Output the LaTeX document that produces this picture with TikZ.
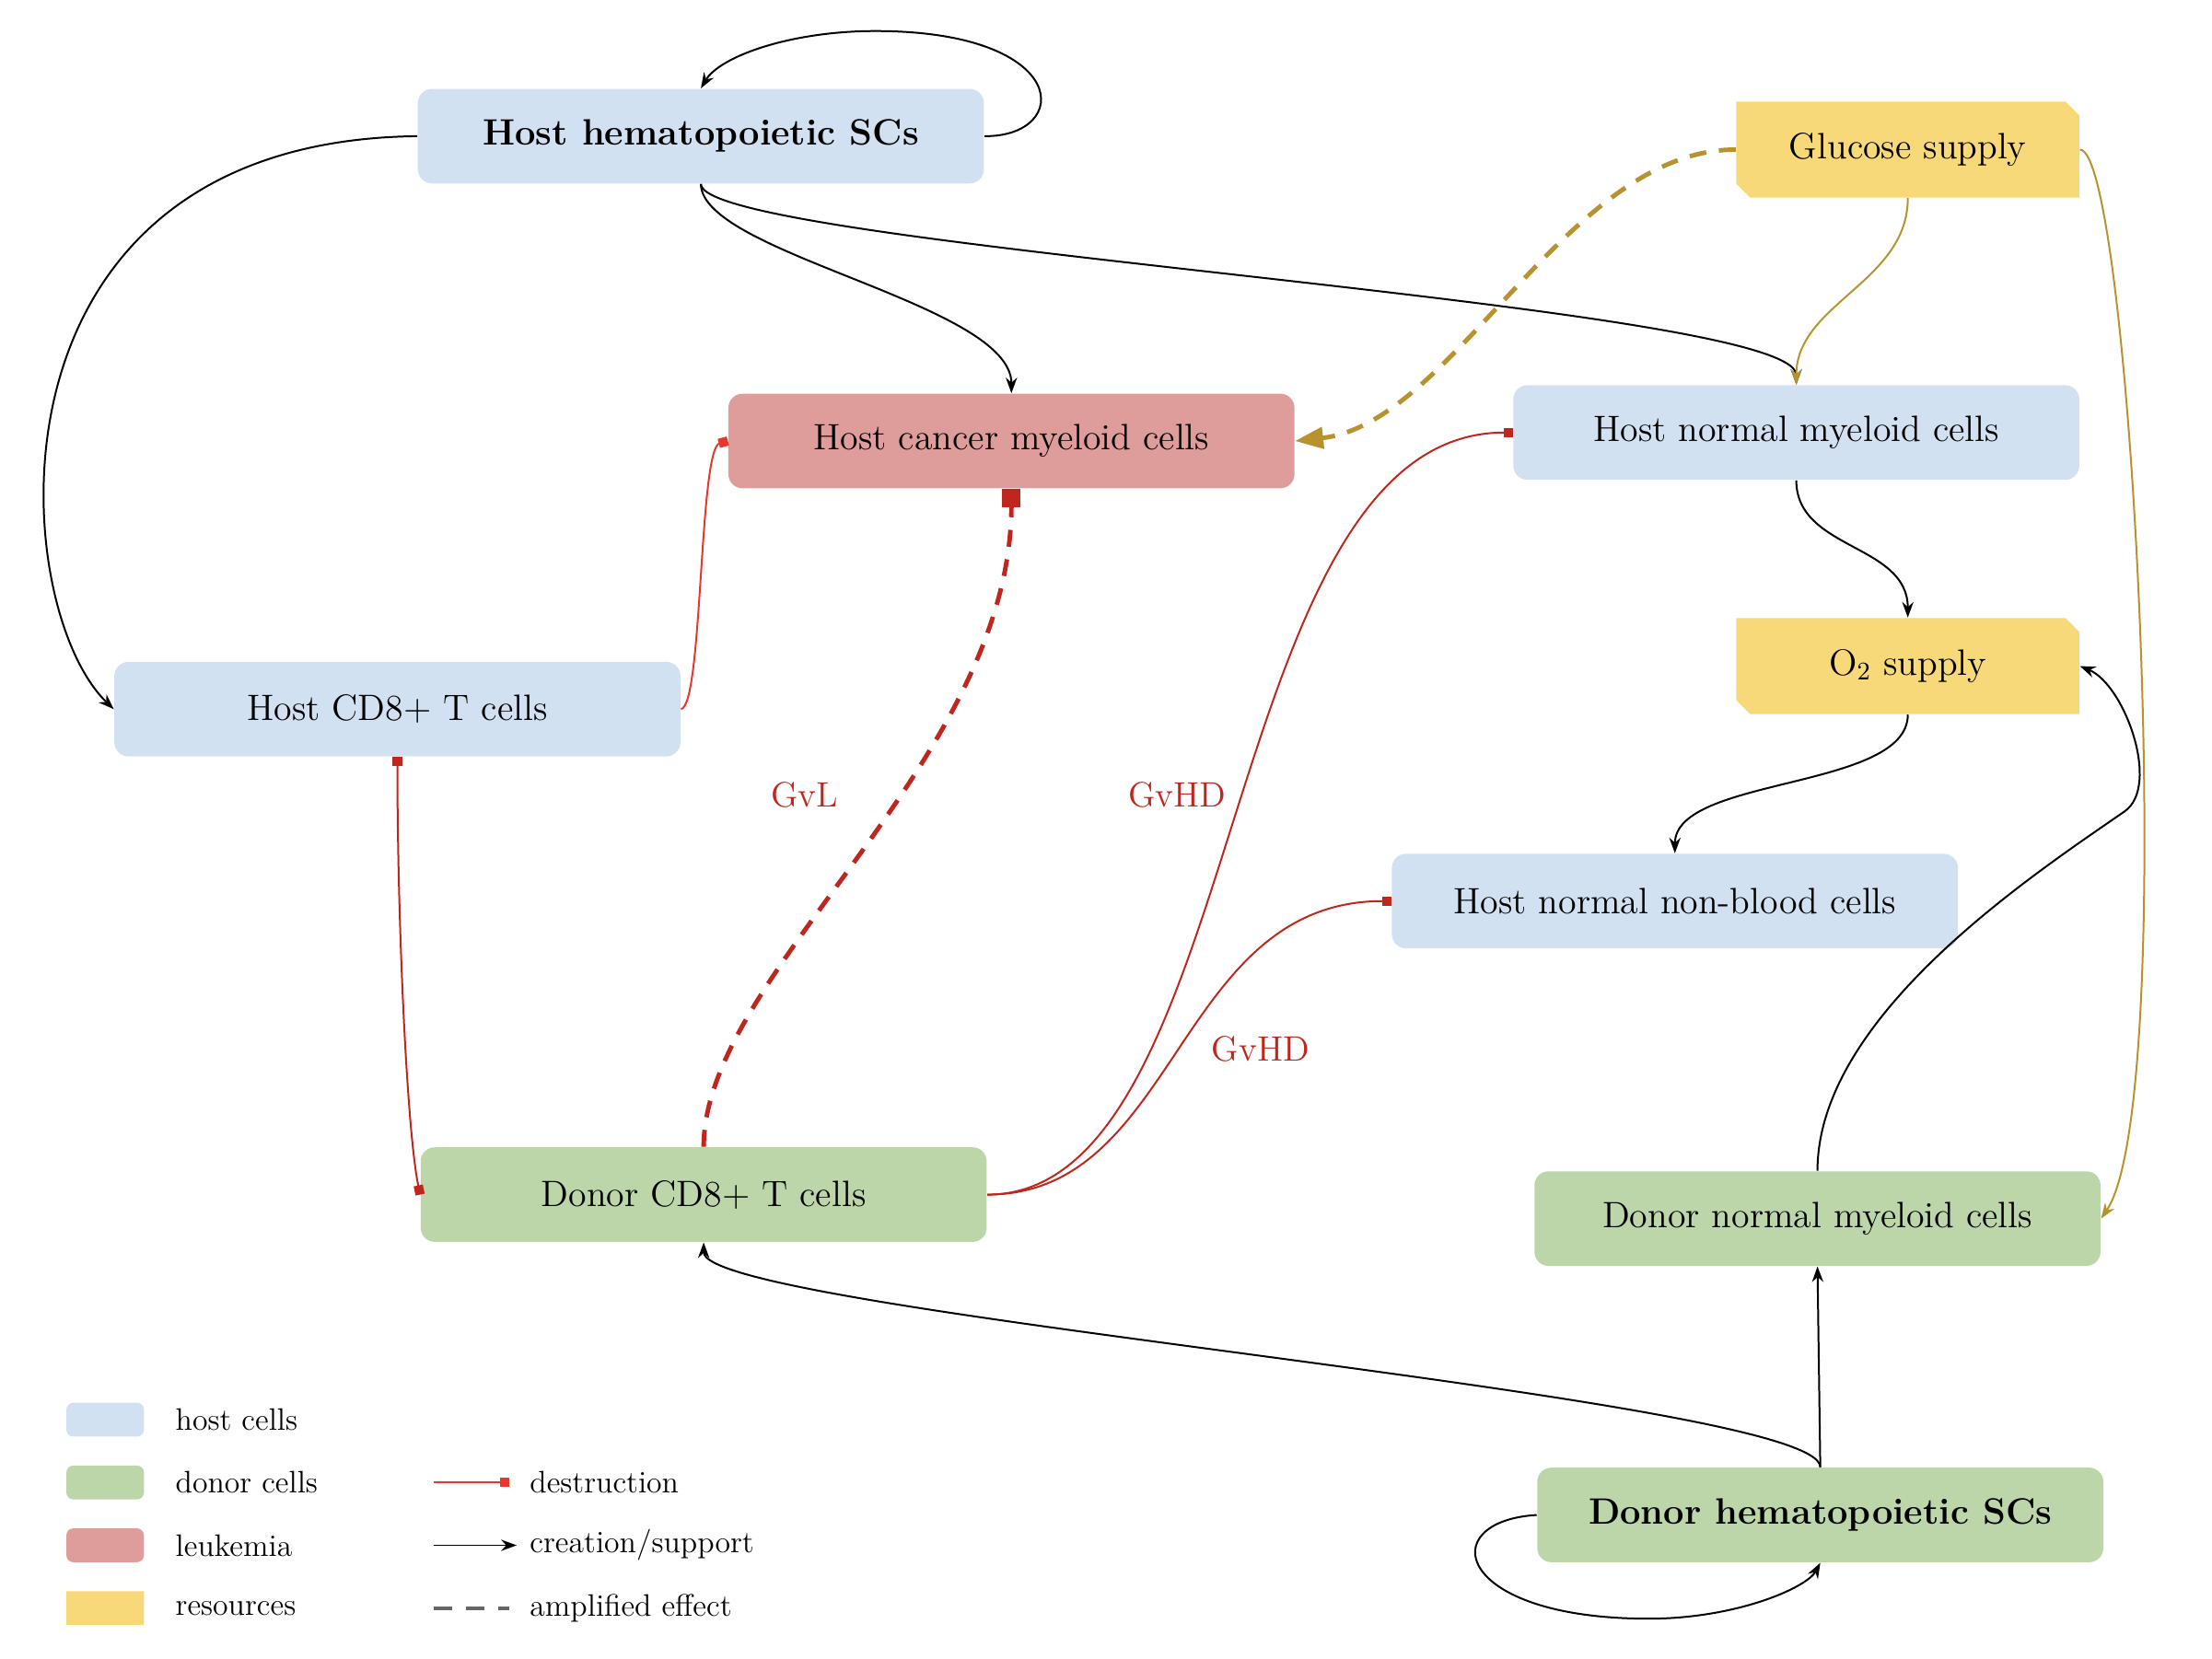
\documentclass[tikz,border=0pt]{standalone}
\usepackage{amsmath}
\usepackage{amssymb}
\usepackage{tikz}
\usetikzlibrary{arrows.meta,shapes.misc}

\definecolor{hostblue}{HTML}{D2E1F1}
\definecolor{donorgreen}{HTML}{BCD6AA}
\definecolor{leukred}{HTML}{DE9C9B}
\definecolor{resyellow}{HTML}{F8D97A}
\definecolor{killred}{HTML}{BF271E}
\definecolor{killbright}{HTML}{E8372B}
\definecolor{goldline}{HTML}{B8922F}
\definecolor{legendgray}{HTML}{666666}

\begin{document}
\begin{tikzpicture}[x=0.5pt,y=0.5pt,yscale=-1,
  cellbox/.style={rounded corners=5pt,minimum width=200.5pt,minimum height=33.5pt,inner sep=0pt,font=\fontsize{13}{15}\selectfont},
  hostbox/.style={cellbox,fill=hostblue},
  donorbox/.style={cellbox,fill=donorgreen},
  cancerbox/.style={cellbox,fill=leukred},
  resbox/.style={chamfered rectangle,chamfered rectangle corners={north east,south west},chamfered rectangle xsep=2.6pt,chamfered rectangle ysep=2.3pt,fill=resyellow,minimum width=121.5pt,minimum height=34pt,inner sep=0pt,font=\fontsize{13}{15}\selectfont},
  legtext/.style={anchor=west,inner sep=0pt,font=\fontsize{11}{13}\selectfont},
  gvtext/.style={text=killred,inner sep=0pt,font=\fontsize{12.5}{14}\selectfont},
  support/.style={draw=black,line width=0.65pt,-{Stealth[length=5.5pt,width=4pt]}},
  kill/.style={draw=killred,line width=0.65pt,-{Square[length=3.3pt,width=3.3pt]}},
  amplified/.style={line width=1.6pt,dash pattern=on 6pt off 4.5pt},
  feed/.style={draw=goldline,line width=0.65pt,-{Stealth[length=5.5pt,width=4pt]}}
]
\useasboundingbox (0,0) rectangle (1567,1175.5);

% Cell nodes
\node[hostbox,font=\fontsize{13}{15}\selectfont\bfseries] (hsc) at (496.5,96.5) {Host hematopoietic SCs};
\node[cancerbox] (cancer) at (716.5,312.5) {Host cancer myeloid cells};
\node[hostbox] (hnm) at (1272.5,306.5) {Host normal myeloid cells};
\node[hostbox] (hcd8) at (281.5,502.5) {Host CD8+ T cells};
\node[hostbox] (hnb) at (1186.5,638.5) {Host normal non-blood cells};
\node[donorbox] (dcd8) at (498.5,846.5) {Donor CD8+ T cells};
\node[donorbox] (dnm) at (1287.5,863.5) {Donor normal myeloid cells};
\node[donorbox,font=\fontsize{13}{15}\selectfont\bfseries] (dhsc) at (1289.5,1073.5) {Donor hematopoietic SCs};
% Resource nodes
\node[resbox] (glucose) at (1351.5,106) {Glucose supply};
\node[resbox] (o2) at (1351.5,472) {O$_2$ supply};

% Text Node
\node[gvtext] (gvl) at (570,563) {GvL};
\node[gvtext] (gvhdA) at (834,563) {GvHD};
\node[gvtext] (gvhdB) at (893,743) {GvHD};

%Curve Lines: creation/support
\draw[support] (hsc.east) .. controls (760,97) and (760,22) .. (620,22) .. controls (560,22) and (510,40) .. (hsc.north);
\draw[support] (hsc.south) .. controls (497,180) and (716.5,215) .. (cancer.north);
\draw[support] (hsc.south) .. controls (497,175) and (1272.5,215) .. (hnm.north);
\draw[support] (hsc.west) .. controls (-20,100) and (5,430) .. (hcd8.west);
\draw[support] (hnm.south) .. controls (1272.5,390) and (1351.5,385) .. (o2.north);
\draw[support] (o2.south) .. controls (1351.5,560) and (1186.5,550) .. (hnb.north);
\draw[support] (dnm.north) .. controls (1287.5,720) and (1440,620) .. (1505,575) .. controls (1531,557) and (1505,485) .. (o2.east);
\draw[support] (dhsc.north) -- (dnm.south);
\draw[support] (dhsc.north) .. controls (1289.5,990) and (498.5,930) .. (dcd8.south);
\draw[support] (dhsc.west) .. controls (1015,1078) and (1030,1147) .. (1168,1147) .. controls (1230,1147) and (1280,1125) .. (dhsc.south);

%Curve Lines: resources
\draw[feed] (glucose.south) .. controls (1351.5,200) and (1272.5,215) .. (hnm.north);
\draw[feed] (glucose.east) .. controls (1510,106) and (1545,780) .. (dnm.east);
\draw[draw=goldline,amplified,-{Triangle[length=10pt,width=7.5pt]}] (glucose.west) .. controls (1110,106) and (1030,300) .. (cancer.east);

%Curve Lines: destruction
\draw[kill,draw=killbright] (hcd8.east) .. controls (498,500) and (495,318) .. (cancer.west);
\draw[kill,{Square[length=3.3pt,width=3.3pt]}-{Square[length=3.3pt,width=3.3pt]}] (hcd8.south) .. controls (281.5,650) and (288,800) .. (dcd8.west);
\draw[kill,amplified,-{Square[length=6.5pt,width=6.5pt]}] (dcd8.north) .. controls (498.5,690) and (716.5,540) .. (cancer.south);
\draw[kill] (dcd8.east) .. controls (885,846.5) and (861,306.5) .. (hnm.west);
\draw[kill] (dcd8.east) .. controls (835,846.5) and (833,638.5) .. (hnb.west);

% Legend
\node[hostbox,minimum width=27.5pt,minimum height=12pt,rounded corners=2.5pt] (lghost) at (74.5,1006) {};
\node[donorbox,minimum width=27.5pt,minimum height=12pt,rounded corners=2.5pt] (lgdonor) at (74.5,1050.5) {};
\node[cancerbox,minimum width=27.5pt,minimum height=12pt,rounded corners=2.5pt] (lgleuk) at (74.5,1095) {};
\node[resbox,minimum width=27.5pt,minimum height=12pt,chamfered rectangle xsep=1pt,chamfered rectangle ysep=1pt] (lgres) at (74.5,1139.5) {};
\node[legtext] (lbhost) at (124,1006) {host cells};
\node[legtext] (lbdonor) at (124,1050.5) {donor cells};
\node[legtext] (lbleuk) at (124,1095) {leukemia};
\node[legtext] (lbres) at (124,1139.5) {resources};
\node[legtext] (lbkill) at (375,1050.5) {destruction};
\node[legtext] (lbsupp) at (375,1095) {creation/support};
\node[legtext] (lbamp) at (375,1139.5) {amplified effect};
\coordinate (lk0) at (307,1050.5);
\coordinate (lk1) at (361,1050.5);
\coordinate (ls0) at (307,1095);
\coordinate (ls1) at (366,1095);
\coordinate (la0) at (307,1139.5);
\coordinate (la1) at (361,1139.5);
\draw[kill,draw=killbright] (lk0) -- (lk1);
\draw[support] (ls0) -- (ls1);
\draw[draw=legendgray,line width=1.3pt,dash pattern=on 6.5pt off 5pt] (la0) -- (la1);

\end{tikzpicture}
\end{document}
